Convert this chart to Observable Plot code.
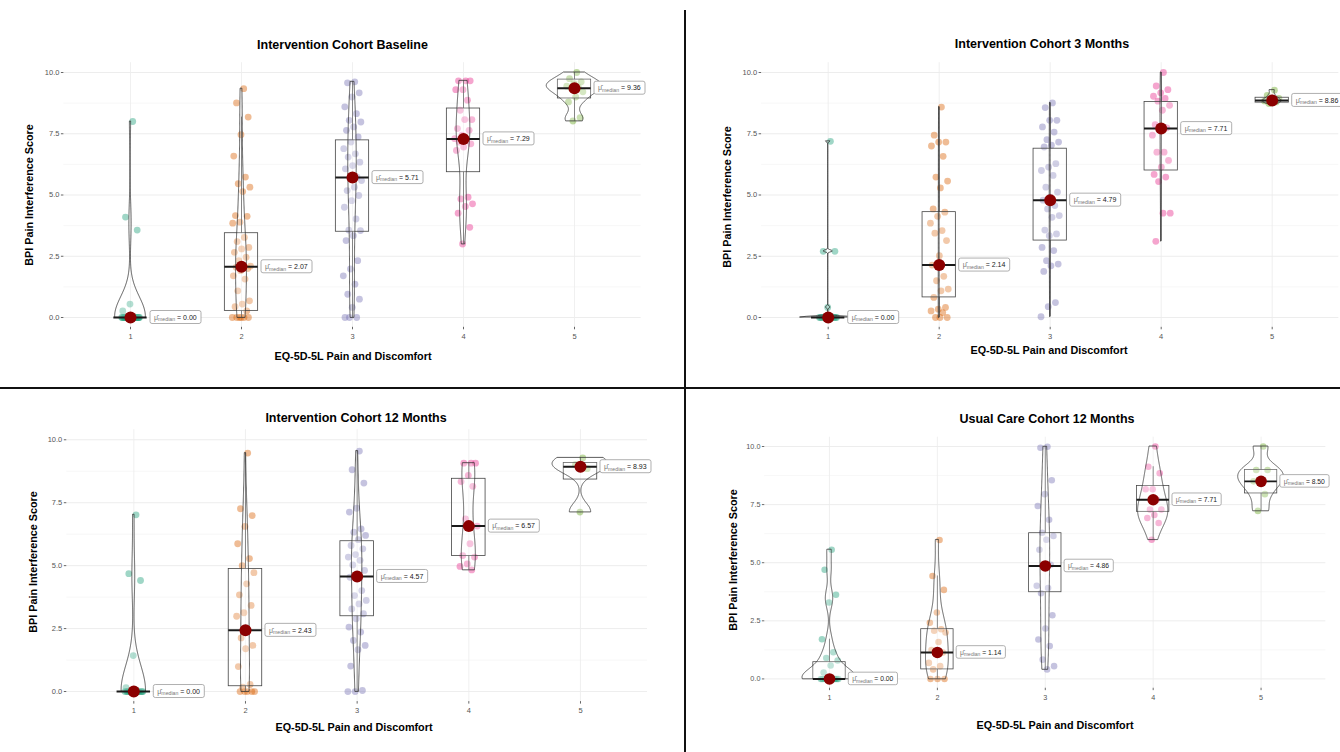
<!DOCTYPE html>
<html>
<head>
<meta charset="utf-8">
<script src="https://cdn.jsdelivr.net/npm/d3@7"></script>
<script src="https://cdn.jsdelivr.net/npm/@observablehq/plot@0.6"></script>
<style>
  html, body { margin: 0; padding: 0; background: #fff; }
  #root { position: relative; width: 1340px; height: 752px; overflow: hidden; background: #fff;
          font-family: "Liberation Sans", Arial, Helvetica, sans-serif; }
  .panel { position: absolute; }
  .panel svg { overflow: visible; }
  .ttl { position: absolute; transform: translate(-50%, -50%); white-space: nowrap; font-weight: bold;
         font-size: 12.5px; color: #000; }
  .xttl { position: absolute; transform: translate(-50%, -50%); white-space: nowrap; font-weight: bold;
          font-size: 10.8px; color: #000; }
  .yttl { position: absolute; transform: translate(-50%, -50%) rotate(-90deg); white-space: nowrap;
          font-weight: bold; font-size: 10.8px; color: #000; }
  .divider { position: absolute; background: #111; z-index: 5; }
</style>
</head>
<body>
<div id="root"></div>
<script>
// ---------------- DATA ----------------
const categories = [1, 2, 3, 4, 5];
const xTickLabels = ["1", "2", "3", "4", "5"];
const categoryColors = ["#1B9E77", "#D95F02", "#7570B3", "#E7298A", "#66A61E"];
const yTicks = [0, 2.5, 5, 7.5, 10];
const yTickLabels = ["0.0", "2.5", "5.0", "7.5", "10.0"];
const yMinorGrid = [1.25, 3.75, 6.25, 8.75];
const yAxisTitle = "BPI Pain Interference Score";
const xAxisTitle = "EQ-5D-5L Pain and Discomfort";

// Intervention Cohort Baseline
const baselineScores = [
  [8.0, 4.1, 3.57, 0.55, 0.27, 0, 0, 0, 0, 0, 0, 0, 0, 0, 0, 0, 0, 0, 0, 0, 0, 0, 0, 0, 0, 0, 0, 0, 0],
  [9.34, 8.76, 8.18, 7.46, 6.59, 5.73, 5.46, 5.32, 5.14, 4.16, 4.13, 3.89, 3.85, 3.27, 3.1, 2.86, 2.8, 2.66, 2.46, 2.32,
   2.1, 2.07, 2.05, 2.0, 1.91, 1.7, 1.57, 1.09, 0.68, 0.55, 0.44, 0.27, 0, 0, 0, 0, 0, 0],
  [9.62, 9.58, 9.17, 9.0, 8.6, 8.32, 8.05, 7.98, 7.78, 7.64, 7.37, 7.16, 6.89, 6.68, 6.55, 6.34, 6.2, 6.07, 5.73, 5.71,
   5.59, 5.32, 5.18, 4.98, 4.77, 4.5, 4.02, 3.57, 3.55, 3.34, 3.14, 2.32, 1.98, 1.7, 1.36, 0.95, 0.75, 0.41, 0, 0, 0],
  [9.66, 9.66, 9.66, 9.3, 9.3, 8.87, 8.46, 8.08, 8.08, 7.71, 7.64, 7.44, 7.3, 7.29, 7.16, 7.09, 6.96, 6.82, 4.91, 4.84,
   4.64, 4.53, 4.26, 3.68, 3.0],
  [10.0, 9.75, 9.62, 9.55, 9.44, 9.39, 9.36, 9.21, 9.0, 8.8, 8.16, 8.02]
];
const baselineMedians = [0, 2.07, 5.71, 7.29, 9.36];
const baselineMedianLabels = ["0.00", "2.07", "5.71", "7.29", "9.36"];
const baselineQ1 = [0, 0.27, 3.5, 5.93, 8.94];
const baselineQ3 = [0, 3.44, 7.23, 8.53, 9.71];

// Intervention Cohort 3 Months
const threeMonthScores = [
  [7.19, 2.7, 2.7, 0.41, 0, 0, 0, 0, 0, 0, 0, 0, 0, 0, 0, 0],
  [8.59, 7.44, 7.16, 7.16, 7.0, 6.58, 5.73, 5.57, 5.29, 4.43, 4.3, 4.13, 3.85, 3.55, 3.44, 3.14, 2.52, 2.14, 1.68, 1.5,
   1.16, 1.09, 0.82, 0.41, 0.34, 0.27, 0.2, 0, 0, 0],
  [8.76, 8.57, 8.05, 8.05, 7.78, 7.57, 7.26, 7.16, 7.03, 6.96, 6.28, 6.14, 6.0, 5.8, 5.32, 5.12, 4.91, 4.79, 4.57, 4.43,
   4.16, 4.09, 3.57, 3.41, 3.34, 2.86, 2.73, 2.32, 2.18, 2.11, 1.88, 0.61, 0.44, 0.03],
  [10.0, 9.45, 9.3, 9.17, 9.03, 8.94, 8.83, 8.66, 8.46, 7.87, 7.74, 7.71, 7.44, 6.75, 6.75, 6.41, 6.14, 5.84, 5.73, 5.55,
   4.26, 4.26, 3.11],
  [9.28, 9.07, 8.94, 8.86, 8.84, 8.8, 8.73]
];
const threeMonthMedians = [0, 2.14, 4.79, 7.71, 8.86];
const threeMonthMedianLabels = ["0.00", "2.14", "4.79", "7.71", "8.86"];
const threeMonthQ1 = [0, 0.82, 3.14, 6.0, 8.77];
const threeMonthQ3 = [0, 4.3, 6.89, 8.8, 8.97];

// Intervention Cohort 12 Months
const twelveMonthScores = [
  [7.02, 4.68, 4.41, 1.43, 0.15, 0, 0, 0, 0, 0, 0, 0, 0, 0, 0, 0, 0, 0, 0, 0, 0],
  [9.47, 7.26, 6.99, 6.56, 5.87, 5.28, 5.0, 4.72, 4.28, 3.84, 3.42, 3.13, 2.99, 2.43, 2.13, 1.83, 1.7, 0.99, 0.28, 0.17,
   0, 0, 0, 0, 0],
  [9.55, 8.81, 8.28, 7.28, 7.13, 6.46, 6.33, 6.2, 6.03, 5.8, 5.67, 5.44, 5.34, 5.21, 5.03, 4.81, 4.57, 4.54, 4.01, 3.81,
   3.62, 3.48, 3.28, 3.09, 2.89, 2.56, 2.36, 2.03, 1.83, 1.66, 1.01, 0.04, 0, 0],
  [9.07, 9.07, 9.07, 8.58, 8.34, 8.15, 6.86, 6.57, 5.87, 5.4, 5.34, 5.07, 4.97, 4.83],
  [9.28, 9.01, 8.85, 7.13]
];
const twelveMonthMedians = [0, 2.43, 4.57, 6.57, 8.93];
const twelveMonthMedianLabels = ["0.00", "2.43", "4.57", "6.57", "8.93"];
const twelveMonthQ1 = [0, 0.21, 2.99, 5.38, 8.42];
const twelveMonthQ3 = [0, 4.87, 5.97, 8.45, 9.08];

// Usual Care Cohort 12 Months
const usualCareScores = [
  [5.56, 4.7, 3.62, 3.29, 1.71, 1.15, 0.9, 0.79, 0.58, 0.28, 0, 0, 0, 0, 0, 0, 0, 0, 0, 0, 0, 0],
  [5.98, 4.43, 3.83, 2.86, 2.42, 2.14, 2.07, 2.0, 1.59, 1.24, 1.14, 1.13, 0.69, 0.55, 0.41, 0, 0, 0],
  [9.99, 9.95, 8.55, 7.95, 7.44, 6.85, 6.29, 6.15, 5.99, 5.56, 4.91, 4.86, 4.01, 3.91, 3.69, 2.74, 2.17, 1.7, 1.42, 0.83,
   0.55, 0.41],
  [10.0, 9.13, 8.85, 8.16, 8.16, 7.71, 7.29, 7.29, 7.05, 6.92, 6.71, 5.99],
  [10.0, 8.99, 8.99, 8.5, 8.5, 7.95, 7.23]
];
const usualCareMedians = [0, 1.14, 4.86, 7.71, 8.5];
const usualCareMedianLabels = ["0.00", "1.14", "4.86", "7.71", "8.50"];
const usualCareQ1 = [0, 0.41, 3.73, 7.19, 7.98];
const usualCareQ3 = [0.72, 2.14, 6.27, 8.3, 8.99];

// ---------------- HELPERS ----------------
function bwNrd0(v) {
  const s = v.slice().sort(d3.ascending);
  const sd = d3.deviation(s) || 0;
  const iqr = d3.quantileSorted(s, 0.75) - d3.quantileSorted(s, 0.25);
  let lo = Math.min(sd, iqr / 1.34);
  if (!(lo > 0)) lo = sd || Math.abs(s[0]) || 1;
  return 0.9 * lo * Math.pow(s.length, -0.2);
}
function kde(v, cat) {
  const bw = bwNrd0(v);
  const lo = d3.min(v), hi = d3.max(v);
  const out = [];
  const N = 256;
  for (let k = 0; k <= N; k++) {
    const y = lo + (hi - lo) * k / N;
    let s = 0;
    for (const x of v) { const z = (y - x) / bw; s += Math.exp(-0.5 * z * z); }
    out.push({cat, y, d: s / (v.length * bw * Math.sqrt(2 * Math.PI))});
  }
  return out;
}

const FONT = '"Liberation Sans", Arial, Helvetica, sans-serif';
const root = document.getElementById("root");

function addDiv(cls, text, x, y) {
  const d = document.createElement("div");
  d.className = cls; d.textContent = text;
  d.style.left = x + "px"; d.style.top = y + "px";
  root.appendChild(d);
}

function makePanel(p) {
  const g = p.geom;
  const pxX = (g.width - g.mL - g.mR) / 5.2;
  const pxY = (g.height - g.mT - g.mB) / 10.8;

  const points = [];
  const violins = [];
  const whiskers = [];
  p.scores.forEach((vals, ci) => {
    const cat = categories[ci];
    vals.forEach((v, i) => {
      const jit = ((((i + 1) * 0.618034) % 1) - 0.5) * 0.17;
      points.push({cat, v, jit, color: categoryColors[ci]});
    });
    violins.push(...kde(vals, cat));
    const q1 = p.q1[ci], q3 = p.q3[ci], iqr = q3 - q1;
    const up = d3.max(vals.filter(v => v <= q3 + 1.5 * iqr));
    const low = d3.min(vals.filter(v => v >= q1 - 1.5 * iqr));
    if (up > q3) whiskers.push({cat, from: q3, to: up});
    if (low < q1) whiskers.push({cat, from: q1, to: low});
  });
  const maxD = d3.max(violins, d => d.d);
  const meds = categories.map((cat, ci) => ({
    cat, median: p.medians[ci], label: p.labels[ci], q1: p.q1[ci], q3: p.q3[ci]
  }));

  const offX = 20 / pxX, wX = 51 / pxX, hY = 13 / pxY;

  const chart = Plot.plot({
    width: g.width, height: g.height,
    marginLeft: g.mL, marginRight: g.mR, marginTop: g.mT, marginBottom: g.mB,
    x: {domain: [0.4, 5.6], label: null},
    y: {domain: [-0.4, 10.4], label: null},
    color: {type: "identity"},
    style: {fontFamily: FONT, fontSize: "7.5px", background: "transparent", overflow: "visible"},
    marks: [
      Plot.ruleY(yMinorGrid, {stroke: "#f3f3f3", strokeWidth: 0.7}),
      Plot.ruleY(yTicks, {stroke: "#e8e8e8", strokeWidth: 0.8}),
      Plot.ruleX(categories, {stroke: "#ececec", strokeWidth: 0.8}),
      Plot.axisY({ticks: yTicks, tickFormat: d => yTickLabels[yTicks.indexOf(d)], tickSize: 2.5, tickPadding: 2,
                  fontSize: 7.5, fill: "#555", stroke: "#666", label: null}),
      Plot.axisX({ticks: categories, tickFormat: d => xTickLabels[categories.indexOf(d)], tickSize: 2.5, tickPadding: 4,
                  fontSize: 7.5, fill: "#555", stroke: "#666", label: null}),
      Plot.dot(points, {x: d => d.cat + d.jit, y: "v", r: 3.4, fill: "color", fillOpacity: 0.42, stroke: null}),
      Plot.rect(meds, {x1: d => d.cat - 0.15, x2: d => d.cat + 0.15, y1: "q1", y2: "q3",
                       fill: "white", fillOpacity: 0.2, stroke: "#444", strokeWidth: 0.8}),
      Plot.ruleX(whiskers, {x: "cat", y1: "from", y2: "to", stroke: "#444", strokeWidth: 0.8}),
      Plot.areaX(violins, {y: "y", x1: d => d.cat - 0.25 * d.d / maxD, x2: d => d.cat + 0.25 * d.d / maxD, z: "cat",
                           fill: "white", fillOpacity: 0.2, stroke: "#333", strokeWidth: 0.8}),
      Plot.ruleY(meds, {y: "median", x1: d => d.cat - 0.15, x2: d => d.cat + 0.15, stroke: "#1a1a1a", strokeWidth: 2}),
      Plot.dot(meds, {x: "cat", y: "median", r: 6, fill: "#8B0000", stroke: null}),
      Plot.rect(meds, {x1: d => d.cat + offX, x2: d => d.cat + offX + wX, y1: d => d.median - hY / 2,
                       y2: d => d.median + hY / 2, fill: "white", stroke: "#9a9a9a", strokeWidth: 0.8, rx: 2}),
      Plot.text(meds, {x: d => d.cat + offX, y: "median", text: d => "μ̂median = " + d.label, textAnchor: "start",
                       dx: 3.5, fontSize: 7, fill: "#222"})
    ]
  });

  // format the centrality labels: hat-mu with "median" subscript
  const NS = "http://www.w3.org/2000/svg";
  chart.querySelectorAll("text").forEach(t => {
    const s = t.textContent;
    if (s.startsWith("μ̂median")) {
      const rest = s.slice("μ̂median".length);
      t.textContent = "";
      const a = document.createElementNS(NS, "tspan");
      a.textContent = "μ̂"; a.setAttribute("fill", "#777"); a.setAttribute("font-size", "7");
      const b = document.createElementNS(NS, "tspan");
      b.textContent = "median"; b.setAttribute("fill", "#777"); b.setAttribute("font-size", "5.2");
      b.setAttribute("dy", "1.6");
      const c = document.createElementNS(NS, "tspan");
      c.textContent = rest; c.setAttribute("dy", "-1.6"); c.setAttribute("fill", "#222");
      t.append(a, b, c);
    }
  });

  const wrap = document.createElement("div");
  wrap.className = "panel";
  wrap.style.left = g.left + "px"; wrap.style.top = g.top + "px";
  wrap.appendChild(chart);
  root.appendChild(wrap);

  addDiv("ttl", p.title, p.titlePos[0], p.titlePos[1]);
  addDiv("xttl", xAxisTitle, p.xTitlePos[0], p.xTitlePos[1]);
  addDiv("yttl", yAxisTitle, p.yTitlePos[0], p.yTitlePos[1]);
}

const panels = [
  {title: "Intervention Cohort Baseline", scores: baselineScores, medians: baselineMedians,
   labels: baselineMedianLabels, q1: baselineQ1, q3: baselineQ3,
   geom: {left: 0, top: 50, width: 684, height: 320, mL: 63.4, mR: 43.4, mT: 12.2, mB: 43.2},
   titlePos: [342.5, 45], xTitlePos: [353, 356], yTitlePos: [29, 195]},
  {title: "Intervention Cohort 3 Months", scores: threeMonthScores, medians: threeMonthMedians,
   labels: threeMonthMedianLabels, q1: threeMonthQ1, q3: threeMonthQ3,
   geom: {left: 684, top: 50, width: 656, height: 320, mL: 77.1, mR: 1.7, mT: 12.2, mB: 43.2},
   titlePos: [1042, 44], xTitlePos: [1049, 350], yTitlePos: [727, 197]},
  {title: "Intervention Cohort 12 Months", scores: twelveMonthScores, medians: twelveMonthMedians,
   labels: twelveMonthMedianLabels, q1: twelveMonthQ1, q3: twelveMonthQ3,
   geom: {left: 0, top: 410, width: 684, height: 342, mL: 66.3, mR: 37, mT: 19.2, mB: 50.9},
   titlePos: [356, 418], xTitlePos: [354, 727], yTitlePos: [33, 562]},
  {title: "Usual Care Cohort 12 Months", scores: usualCareScores, medians: usualCareMedians,
   labels: usualCareMedianLabels, q1: usualCareQ1, q3: usualCareQ3,
   geom: {left: 684, top: 410, width: 680, height: 342, mL: 83.2, mR: 15.2, mT: 27.7, mB: 54.1},
   titlePos: [1047, 419], xTitlePos: [1055, 725], yTitlePos: [733, 560]}
];

panels.forEach(makePanel);

// panel dividers
const v = document.createElement("div");
v.className = "divider"; v.style.left = "684px"; v.style.top = "10px"; v.style.width = "2px"; v.style.height = "742px";
root.appendChild(v);
const h = document.createElement("div");
h.className = "divider"; h.style.left = "0px"; h.style.top = "387px"; h.style.width = "1340px"; h.style.height = "2px";
root.appendChild(h);
</script>
</body>
</html>
